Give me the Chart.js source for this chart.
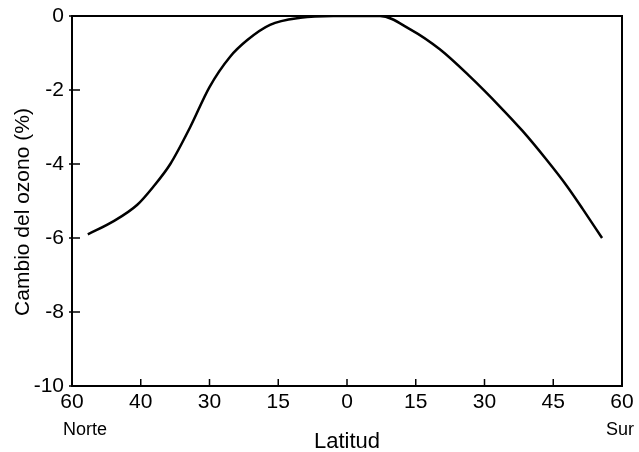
<!DOCTYPE html>
<html>
<head>
<meta charset="utf-8">
<script src="https://cdn.jsdelivr.net/npm/chart.js@4.4.0/dist/chart.umd.min.js"></script>
<style>
  html, body { margin: 0; padding: 0; background: #fff; }
  #wrap { width: 639px; height: 452px; }
</style>
</head>
<body>
<div id="wrap"><canvas id="chart"></canvas></div>
<script>
// latitude ticks, evenly spaced along the axis (north on the left, south on the right)
const latLabels = ['60', '40', '30', '15', '0', '15', '30', '45', '60'];
const yTicks = [0, -2, -4, -6, -8, -10];

// curve positions along the axis (in tick units) and ozone change in %
const curvePos = [0.23, 0.6, 0.95, 1.18, 1.43, 1.72, 2.0, 2.3, 2.55, 2.88, 3.32, 3.8, 4.48, 4.92, 5.35, 5.79, 6.23, 6.55, 6.9, 7.2, 7.43, 7.71];
const ozoneChange = [-5.9, -5.55, -5.1, -4.62, -4.0, -3.0, -1.92, -1.1, -0.65, -0.24, -0.05, 0, 0, -0.36, -0.9, -1.64, -2.46, -3.1, -3.88, -4.6, -5.22, -6.0];

const FONT = '"Liberation Sans", Arial, Helvetica, sans-serif';

// frame, inward tick marks, y title and the Norte / Sur captions
const framePlugin = {
  id: 'frame',
  afterDraw(chart) {
    const { ctx, chartArea: a, scales } = chart;
    ctx.save();
    ctx.strokeStyle = '#000';
    ctx.lineWidth = 2;
    ctx.strokeRect(a.left, a.top, a.right - a.left, a.bottom - a.top);

    ctx.lineWidth = 1.5;
    ctx.beginPath();
    latLabels.forEach((_, i) => {
      const x = scales.x.getPixelForValue(i);
      ctx.moveTo(x, a.bottom);
      ctx.lineTo(x, a.bottom - 7);
    });
    yTicks.forEach(v => {
      const y = scales.y.getPixelForValue(v);
      ctx.moveTo(a.left - 3, y);
      ctx.lineTo(a.left + 8, y);
    });
    ctx.stroke();

    ctx.fillStyle = '#000';
    ctx.textAlign = 'center';
    ctx.textBaseline = 'middle';

    ctx.font = '18px ' + FONT;
    ctx.fillText('Norte', scales.x.getPixelForValue(0) + 13, a.bottom + 44);
    ctx.fillText('Sur', scales.x.getPixelForValue(latLabels.length - 1) - 2, a.bottom + 44);

    ctx.translate(23, (a.top + a.bottom) / 2 + 11);
    ctx.rotate(-Math.PI / 2);
    ctx.font = '21px ' + FONT;
    ctx.fillText('Cambio del ozono (%)', 0, 0);
    ctx.restore();
  }
};

new Chart(document.getElementById('chart'), {
  type: 'line',
  data: {
    datasets: [{
      data: curvePos.map((p, i) => ({ x: p, y: ozoneChange[i] })),
      borderColor: '#000',
      borderWidth: 2.5,
      pointRadius: 0,
      fill: false,
      cubicInterpolationMode: 'monotone'
    }]
  },
  options: {
    responsive: true,
    maintainAspectRatio: false,
    animation: false,
    events: [],
    layout: { padding: { left: 0, right: 17, top: 16, bottom: 0 } },
    plugins: {
      legend: { display: false },
      tooltip: { enabled: false }
    },
    scales: {
      x: {
        type: 'linear',
        min: 0,
        max: latLabels.length - 1,
        afterBuildTicks(scale) {
          scale.ticks = latLabels.map((_, i) => ({ value: i }));
        },
        afterFit(scale) {
          scale.height = 66;
          scale.paddingLeft = 0;
          scale.paddingRight = 0;
        },
        grid: { display: false, drawTicks: false },
        border: { display: false },
        ticks: {
          padding: 4,
          color: '#000',
          font: { family: FONT, size: 21 },
          maxRotation: 0,
          callback: v => latLabels[v]
        },
        title: {
          display: true,
          text: 'Latitud',
          color: '#000',
          font: { family: FONT, size: 22 },
          padding: { top: 0, bottom: -3 }
        }
      },
      y: {
        min: -10,
        max: 0,
        afterBuildTicks(scale) {
          scale.ticks = yTicks.map(v => ({ value: v }));
        },
        afterFit(scale) {
          scale.width = 72;
          scale.paddingTop = 0;
          scale.paddingBottom = 0;
        },
        grid: { display: false, drawTicks: false },
        border: { display: false },
        ticks: {
          padding: 8,
          color: '#000',
          font: { family: FONT, size: 21 }
        }
      }
    }
  },
  plugins: [framePlugin]
});
</script>
</body>
</html>
